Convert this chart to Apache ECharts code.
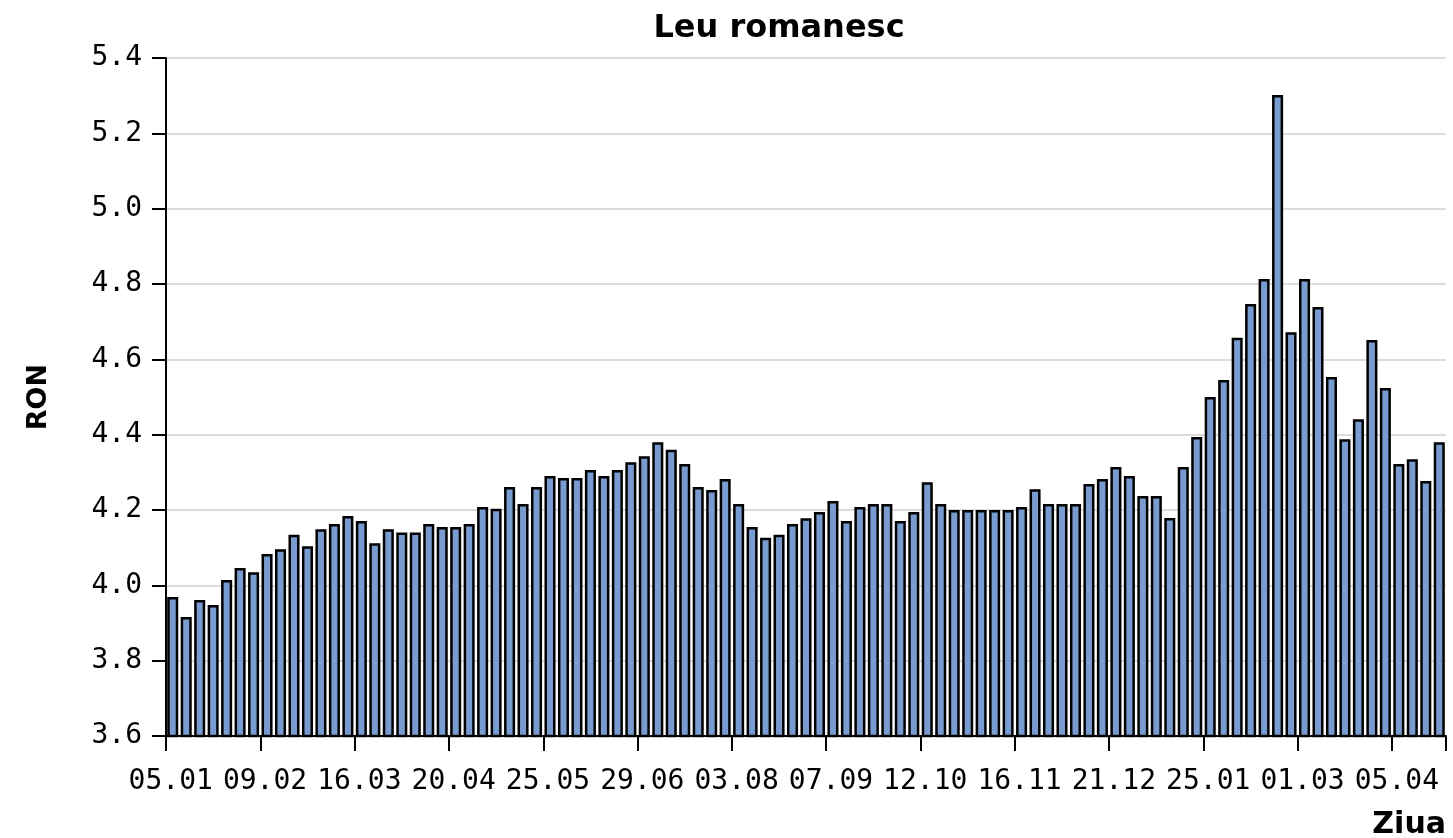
<!DOCTYPE html>
<html>
<head>
<meta charset="utf-8">
<script src="https://cdn.jsdelivr.net/npm/echarts@6/dist/echarts.min.js"></script>
<style>
html,body{margin:0;padding:0;background:#fff;}
#c{width:1453px;height:838px;}
</style>
</head>
<body>
<div id="c"></div>
<script>
var categories = [
'05.01','10.01','15.01','20.01','25.01','30.01',
'04.02','09.02','14.02','19.02','24.02',
'01.03','06.03','11.03','16.03','21.03','26.03','31.03',
'05.04','10.04','15.04','20.04','25.04','30.04',
'05.05','10.05','15.05','20.05','25.05','30.05',
'04.06','09.06','14.06','19.06','24.06','29.06',
'04.07','09.07','14.07','19.07','24.07','29.07',
'03.08','08.08','13.08','18.08','23.08','28.08',
'02.09','07.09','12.09','17.09','22.09','27.09',
'02.10','07.10','12.10','17.10','22.10','27.10',
'01.11','06.11','11.11','16.11','21.11','26.11',
'01.12','06.12','11.12','16.12','21.12','26.12','31.12',
'05.01','10.01','15.01','20.01','25.01','30.01',
'04.02','09.02','14.02','19.02','24.02',
'01.03','06.03','11.03','16.03','21.03','26.03','31.03',
'05.04','10.04','15.04','20.04'
];
var ronValues = [
3.969,3.916,3.961,3.948,4.014,4.046,4.035,4.083,4.096,4.134,
4.104,4.149,4.163,4.184,4.171,4.112,4.149,4.140,4.140,4.163,
4.155,4.155,4.163,4.208,4.203,4.261,4.216,4.261,4.290,4.285,
4.285,4.306,4.290,4.306,4.327,4.343,4.380,4.360,4.322,4.261,
4.253,4.282,4.216,4.155,4.126,4.134,4.163,4.178,4.195,4.224,
4.171,4.208,4.216,4.216,4.171,4.195,4.274,4.216,4.200,4.200,
4.200,4.200,4.200,4.208,4.255,4.216,4.216,4.216,4.269,4.282,
4.314,4.290,4.237,4.237,4.179,4.314,4.394,4.500,4.545,4.657,
4.747,4.813,5.302,4.672,4.813,4.739,4.553,4.388,4.441,4.651,
4.524,4.322,4.335,4.277,4.380
];
var yTicks = {min: 3.6, max: 5.4, interval: 0.2};
var titleText = 'Leu romanesc';
var yName = 'RON';
var xName = 'Ziua';

var chart = echarts.init(document.getElementById('c'));
chart.setOption({
  animation: false,
  backgroundColor: '#ffffff',
  title: [
    {text: titleText, left: 774, top: 8, textAlign: 'center',
     textStyle: {fontFamily: 'DejaVu Sans', fontWeight: 'bold', fontSize: 32, color: '#000'}},
    {text: xName, right: 2, top: 805,
     textStyle: {fontFamily: 'DejaVu Sans', fontWeight: 'bold', fontSize: 30, color: '#000'}}
  ],
  grid: {left: 166, right: 7, top: 58, bottom: 102, containLabel: false},
  xAxis: {
    type: 'category',
    data: categories,
    boundaryGap: true,
    axisLine: {show: true, lineStyle: {color: '#000', width: 2}},
    axisTick: {show: true, interval: 6, length: 15, lineStyle: {color: '#000', width: 2}},
    axisLabel: {interval: 6, margin: 32, padding: [0, 4, 0, 0],
      fontFamily: 'DejaVu Sans Mono', fontSize: 28, color: '#000'},
    splitLine: {show: false}
  },
  yAxis: {
    type: 'value',
    min: yTicks.min, max: yTicks.max, interval: yTicks.interval,
    name: yName, nameLocation: 'middle', nameRotate: 90, nameGap: 114,
    nameTextStyle: {fontFamily: 'DejaVu Sans', fontWeight: 'bold', fontSize: 27, color: '#000'},
    axisLine: {show: true, lineStyle: {color: '#000', width: 2}},
    axisTick: {show: true, length: 14, lineStyle: {color: '#000', width: 2}},
    axisLabel: {margin: 24, formatter: function(v){return v.toFixed(1);},
      fontFamily: 'DejaVu Sans Mono', fontSize: 28, color: '#000'},
    splitLine: {show: true, lineStyle: {color: '#dcdcdc', width: 2}}
  },
  series: [{
    type: 'bar',
    data: ronValues,
    barCategoryGap: '18%',
    itemStyle: {color: '#789ccf', borderColor: '#000', borderWidth: 2.5}
  }]
});
</script>
</body>
</html>
